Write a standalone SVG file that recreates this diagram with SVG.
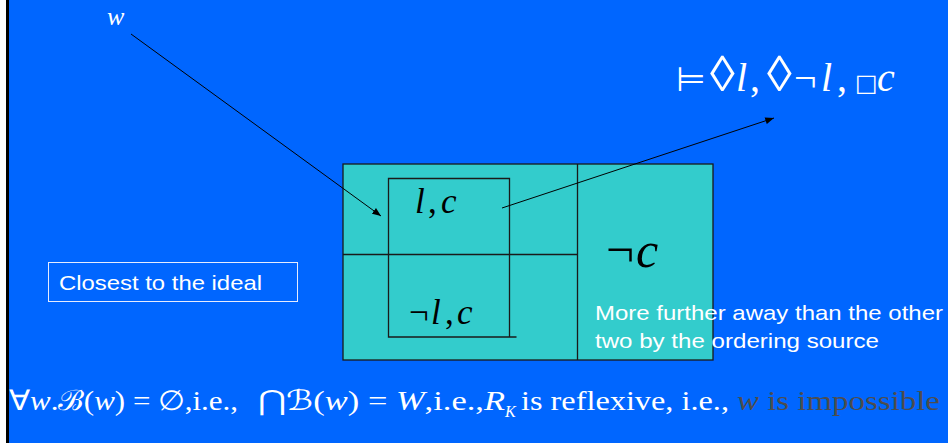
<svg xmlns="http://www.w3.org/2000/svg" width="948" height="443" viewBox="0 0 948 443">
<style>
.serif{font-family:"Liberation Serif","Times New Roman",serif;fill:#000}
.it{font-style:italic}
.wt{fill:#fff}
.gray{fill:#4D4D4D}
.sans{font-family:"Liberation Sans",Arial,sans-serif;fill:#fff}
.ln{stroke:#1a1a1a;stroke-width:1.3;fill:none}
.region{stroke:#1a1a1a;stroke-width:1.3;fill:#33CCCC}
.conn{stroke:#000;stroke-width:1;fill:none;marker-end:url(#ah)}
.dia{font-size:50px}
</style>
<defs>
<marker id="ah" viewBox="0 0 10 8" refX="10" refY="4" markerWidth="9" markerHeight="7" markerUnits="userSpaceOnUse" orient="auto">
<path d="M0,0 L10,4 L0,8 z" fill="#000"/>
</marker>
</defs>
<rect x="0" y="0" width="948" height="443" fill="#0066FF"/>
<rect x="0" y="0" width="6" height="443" fill="#fff"/>
<rect x="6" y="0" width="3" height="443" fill="#000"/>

<g id="outer-region">
<rect x="343" y="164" width="370" height="196" class="region"/>
<line x1="577.5" y1="164" x2="577.5" y2="360" class="ln"/>
<line x1="343" y1="254.5" x2="577.5" y2="254.5" class="ln"/>
</g>

<g id="inner-region">
<path d="M516.5,337 H388.5 V178.5 H509.5 V337" class="ln"/>
</g>

<g id="label-lc">
<text class="serif it" font-size="35" y="213"><tspan x="415">l</tspan><tspan x="428" font-style="normal">,</tspan><tspan x="441">c</tspan></text>
</g>

<g id="label-notl-c">
<text class="serif" font-size="35" y="324"><tspan x="409">¬</tspan><tspan x="431" font-style="italic">l</tspan><tspan x="445">,</tspan><tspan x="457" font-style="italic">c</tspan></text>
</g>

<g id="label-notc">
<text class="serif" font-size="50" y="267"><tspan x="606">¬</tspan><tspan x="636" font-style="italic">c</tspan></text>
</g>

<g id="further-label">
<text class="sans" font-size="21" x="595" y="320" textLength="348" lengthAdjust="spacingAndGlyphs">More further away than the other</text>
<text class="sans" font-size="21" x="595" y="348" textLength="284" lengthAdjust="spacingAndGlyphs">two by the ordering source</text>
</g>

<g id="closest-box">
<rect x="48.5" y="262.5" width="249" height="39" fill="none" stroke="#e6ecff" stroke-width="1"/>
<text class="sans" font-size="21" x="59" y="290" textLength="203" lengthAdjust="spacingAndGlyphs">Closest to the ideal</text>
</g>

<g id="w-label">
<text class="serif it wt" font-size="26" x="107" y="25">w</text>
</g>

<g id="formula-top">
<text class="serif wt" font-size="40" y="91"><tspan x="676" font-family="DejaVu Sans" font-size="34">⊨</tspan><tspan x="710" class="dia">◊</tspan><tspan x="736" font-style="italic">l</tspan><tspan x="750">,</tspan><tspan x="767" class="dia">◊</tspan><tspan x="794">¬</tspan><tspan x="821" font-style="italic">l</tspan><tspan x="837">,</tspan><tspan x="855" font-size="24" font-family="DejaVu Sans">□</tspan><tspan x="877" font-style="italic">c</tspan></text>
</g>

<g id="formula-bottom">
<text class="serif wt" font-size="28" x="9" y="410" textLength="229" lengthAdjust="spacingAndGlyphs">∀<tspan font-style="italic">w</tspan>.ℬ(<tspan font-style="italic">w</tspan>) = ∅,i.e.,</text>
<text class="serif wt" font-size="28" x="258" y="410" textLength="247" lengthAdjust="spacingAndGlyphs">⋂ℬ(<tspan font-style="italic">w</tspan>) = <tspan font-style="italic">W</tspan>,i.e.,<tspan font-style="italic">R</tspan></text>
<text class="serif wt it" font-size="16" x="505" y="417">K</text>
<text class="serif wt" font-size="28" x="521" y="410" textLength="208" lengthAdjust="spacingAndGlyphs">is reflexive, i.e.,</text>
<text class="serif gray" font-size="28" x="737" y="410" textLength="203" lengthAdjust="spacingAndGlyphs"><tspan font-style="italic">w</tspan> is impossible</text>
</g>

<g id="connectors">
<line x1="131" y1="34" x2="381" y2="216" class="conn"/>
<line x1="502" y1="208" x2="774" y2="118" class="conn"/>
</g>
</svg>
